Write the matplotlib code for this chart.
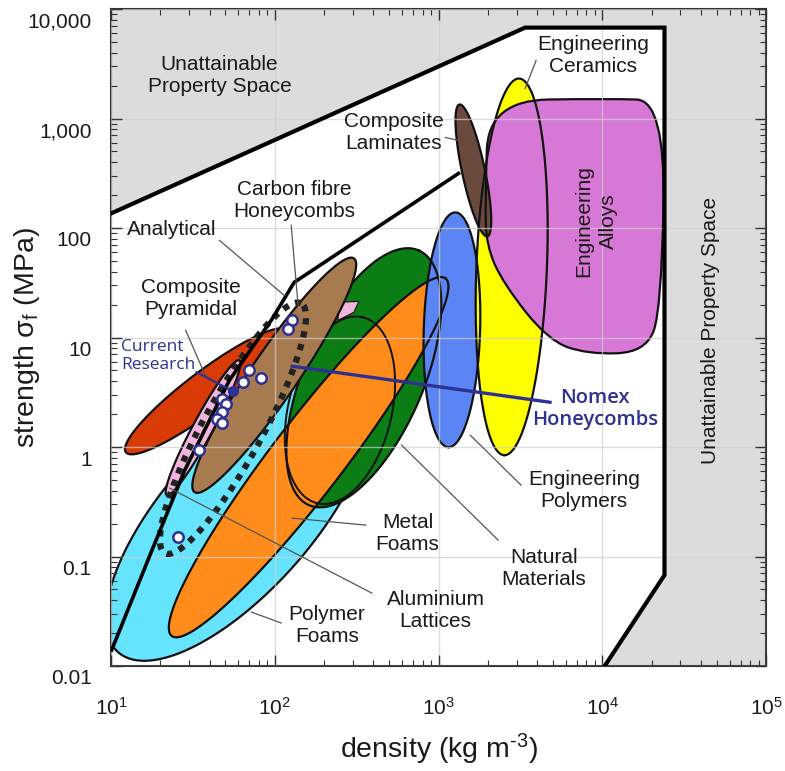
import numpy as np
import matplotlib.pyplot as plt
from matplotlib.path import Path
from matplotlib.patches import PathPatch
from matplotlib.ticker import NullFormatter
from matplotlib.transforms import ScaledTranslation

plt.rcParams['font.family'] = ['Liberation Sans', 'DejaVu Sans']
plt.rcParams['mathtext.fontset'] = 'custom'
plt.rcParams['mathtext.rm'] = 'Liberation Sans'
plt.rcParams['mathtext.it'] = 'Liberation Sans:italic'

# axes
x_ticks = [1e1, 1e2, 1e3, 1e4, 1e5]
x_tick_labels = [r'$\mathregular{10^{1}}$', r'$\mathregular{10^{2}}$', r'$\mathregular{10^{3}}$',
                 r'$\mathregular{10^{4}}$', r'$\mathregular{10^{5}}$']
y_ticks = [0.01, 0.1, 1, 10, 100, 1000, 10000]
y_tick_labels = ['0.01', '0.1', '1', '10', '100', '1,000', '10,000']

# unattainable property space (density, strength)
gray_density = [10, 3381, 23990, 23990, 10350, 1e5, 1e5, 10]
gray_strength = [135.8, 6761, 6761, 0.0676, 0.01, 0.01, 1e4, 1e4]

# analytical limit line
limit_density = [10.1, 17.3, 28.2, 52.8, 95.3, 131.5, 1325]
limit_strength = [0.0140, 0.103, 0.614, 4.06, 14.4, 31.9, 315]

# material envelopes: two tips (density, strength) and minor/major ratio
polymer_foams = [(11.03, 0.0134), (326.3, 4.07), 0.41]
natural_materials = [(162.0, 0.294), (755.8, 62.5), 0.43]
natural_inner = [(181.3, 0.307), (345.1, 15.29), 0.54]
al_lattices = [(23.5, 0.0188), (1103, 34.7), 0.16]
eng_polymers = [(1269, 138.8), (1150, 0.996), 0.24]
eng_ceramics = [(3108, 2317), (2519, 0.842), 0.187]
comp_laminates = [(1342, 1342), (1986, 83.8), 0.17]
cf_honeycombs = [(32.4, 0.387), (304.3, 52.8), 0.165]
red_region = [(12.33, 0.896), (119.1, 11.63), 0.2]
pyramidal = [(21.9, 0.363), (60.8, 6.19), 0.13]
pyramidal_tip_density = [246.6, 326.3, 304.3, 243.2]
pyramidal_tip_strength = [20.95, 21.39, 16.97, 14.36]
dotted_region = [(21.3, 0.1074), (144.9, 20.5), 0.21]

# engineering alloys outline (control points)
alloys_density = [2014, 10800, 24320, 22995, 18385, 8161, 4664, 2484, 1957, 1930]
alloys_strength = [1459, 1522, 1459, 17.71, 7.33, 7.025, 9.43, 31.22, 69.4, 178.6]

# current research specimens
research_density = [127.8, 120.8, 70.0, 64.3, 82.8, 47.9, 50.7, 47.9, 44.7, 47.9, 34.3, 25.5]
research_strength = [14.36, 11.88, 5.02, 3.90, 4.24, 2.73, 2.46, 2.08, 1.79, 1.65, 0.935, 0.150]

# leader lines [(x0, y0), (x1, y1)]
leaders = [
    [(46.0, 77.0), (114.2, 24.27)],
    [(126.0, 105.6), (138.9, 19.67)],
    [(28.58, 11.63), (38.33, 4.24)],
    [(1103, 670.7), (1323, 629.9)],
    [(3942, 3381), (3380, 1878)],
    [(359.8, 0.1934), (127.8, 0.2241)],
    [(2315, 0.1411), (595.7, 1.038)],
    [(3194, 0.448), (1564, 1.281)],
    [(391.4, 0.04634), (22.84, 0.4208)],
    [(109.5, 0.02468), (71.97, 0.0311)],
]
research_leader = [(33.33, 4.813), (55.3, 3.24)]
nomex_line = [(127.8, 5.461), (4795, 2.563)]

# labels: text, density, strength
labels = [
    ('Unattainable\nProperty Space', 46.0, 2468),
    ('Engineering\nCeramics', 8753, 3757),
    ('Composite\nLaminates', 532.5, 745),
    ('Carbon fibre\nHoneycombs', 131.4, 178.6),
    ('Analytical', 23.49, 97.1),
    ('Composite\nPyramidal', 30.64, 22.8),
    ('Metal\nFoams', 647.7, 0.1635),
    ('Natural\nMaterials', 4410, 0.0784),
    ('Engineering\nPolymers', 7718, 0.4035),
    ('Aluminium\nLattices', 958.9, 0.03243),
    ('Polymer\nFoams', 208.5, 0.02366),
]

BLUE = '#2e3192'

fig = plt.figure(figsize=(7.85, 7.71), dpi=100)
ax = fig.add_axes([111 / 785, 105 / 771, 655 / 785, 657 / 771])
ax.set_xscale('log')
ax.set_yscale('log')
ax.set_xlim(10, 1e5)
ax.set_ylim(0.01, 1e4)


def ellipse_xy(spec, n=240):
    tip1, tip2, ratio = spec
    p = ax.transData.transform([tip1, tip2])
    c = p.mean(axis=0)
    a = (p[1] - p[0]) / 2
    b = np.array([-a[1], a[0]]) * ratio
    t = np.linspace(0, 2 * np.pi, n)
    pts = c + np.outer(np.cos(t), a) + np.outer(np.sin(t), b)
    return ax.transData.inverted().transform(pts)


def draw_ellipse(spec, fc, lw=1.6, z=1.0, edge=True, fill=True, **kw):
    xy = ellipse_xy(spec)
    if fill:
        ax.fill(xy[:, 0], xy[:, 1], facecolor=fc, edgecolor='#111111' if edge else 'none',
                lw=lw, zorder=z)
    else:
        ax.plot(xy[:, 0], xy[:, 1], color='#111111', lw=lw, zorder=z, **kw)


# gray region
ax.fill(gray_density, gray_strength, facecolor='#dcdcdc', edgecolor='none', zorder=0.5)
ax.plot(gray_density[:5], gray_strength[:5], color='black', lw=3, zorder=4,
        solid_joinstyle='miter')

# polymer foams
draw_ellipse(polymer_foams, '#66e4fd', z=1.0)

# main group: fills then outlines
group = [
    (natural_materials, '#0b7d14'),
    (al_lattices, '#ff8c1a'),
    (eng_polymers, '#5b84f4'),
    (eng_ceramics, '#ffff00'),
]
for spec, col in group:
    draw_ellipse(spec, col, z=1.2, edge=False)

# alloys, smooth closed outline through the control points
lx = np.log10(alloys_density)
ly = np.log10(alloys_strength)
n = len(lx)
mx = 10 ** ((lx + np.roll(lx, -1)) / 2)
my = 10 ** ((ly + np.roll(ly, -1)) / 2)
verts = [(mx[-1], my[-1])]
codes = [Path.MOVETO]
for i in range(n):
    verts += [(alloys_density[i], alloys_strength[i]), (mx[i], my[i])]
    codes += [Path.CURVE3, Path.CURVE3]
alloy_path = Path(verts, codes)
ax.add_patch(PathPatch(alloy_path, facecolor='#d878d6', edgecolor='none', zorder=1.25))
draw_ellipse(comp_laminates, '#6b4a3e', z=1.27, edge=False)

for spec, col in group:
    draw_ellipse(spec, None, z=1.3, fill=False)
draw_ellipse(natural_inner, None, z=1.3, fill=False, lw=1.4)
ax.add_patch(PathPatch(alloy_path, facecolor='none', edgecolor='#111111', lw=1.6, zorder=1.3))
draw_ellipse(comp_laminates, None, z=1.31, fill=False)

# small composite pyramidal / carbon honeycomb regions
draw_ellipse(red_region, '#d93b06', z=1.4)
draw_ellipse(pyramidal, '#f2b6de', z=1.45)
ax.fill(pyramidal_tip_density, pyramidal_tip_strength, facecolor='#f2b6de',
        edgecolor='#111111', lw=0.8, zorder=1.45)
draw_ellipse(cf_honeycombs, '#a87a50', z=1.5)

# dotted envelope
dxy = ellipse_xy(dotted_region)
ax.plot(dxy[:, 0], dxy[:, 1], color='#222222', lw=4.5, ls=(0, (1, 1.1)), zorder=3.5)

# analytical limit
ax.plot(limit_density, limit_strength, color='black', lw=2.6, zorder=4)

# leader lines
for (x0, y0), (x1, y1) in leaders:
    ax.plot([x0, x1], [y0, y1], color='#555555', lw=0.9, zorder=4)

ax.plot([p[0] for p in research_leader], [p[1] for p in research_leader],
        color=BLUE, lw=1.6, zorder=5)
ax.plot([research_leader[1][0]], [research_leader[1][1]], 'o', color=BLUE, ms=7, zorder=6)
ax.plot([p[0] for p in nomex_line], [p[1] for p in nomex_line], color=BLUE, lw=2.4, zorder=5)
ax.plot(research_density, research_strength, 'o', mfc='white', mec=BLUE, mew=1.8, ms=7.5,
        ls='none', zorder=6)

# grid
ax.grid(True, which='major', color='#cfcfcf', lw=1.0, alpha=0.7)
ax.set_axisbelow(False)

# texts
for txt, x, y in labels:
    ax.text(x, y, txt, ha='center', va='center', fontsize=15, color='#1a1a1a',
            linespacing=1.2, zorder=7)
ax.text(9129, 114.9, 'Engineering\nAlloys', ha='center', va='center', rotation=90,
        fontsize=15, color='#1a1a1a', linespacing=1.4, zorder=7)
ax.text(45640, 11.63, 'Unattainable Property Space', ha='center', va='center', rotation=90,
        fontsize=15, color='#1a1a1a', zorder=7)
ax.text(11.5, 6.736, 'Current\nResearch', ha='left', va='center', fontsize=12.5,
        color=BLUE, family=['Open Sans', 'DejaVu Sans'], linespacing=1.15, zorder=7)
ax.text(9002, 2.213, 'Nomex\nHoneycombs', ha='center', va='center', fontsize=14.5,
        color=BLUE, family=['Open Sans', 'DejaVu Sans'], weight='semibold',
        linespacing=1.1, zorder=7)

# ticks and axes
ax.set_xticks(x_ticks)
ax.set_xticklabels(x_tick_labels)
ax.set_yticks(y_ticks)
ax.set_yticklabels(y_tick_labels)
ax.xaxis.set_minor_formatter(NullFormatter())
ax.yaxis.set_minor_formatter(NullFormatter())
ax.tick_params(which='both', direction='in', top=True, right=True, colors='#333333',
               labelcolor='#1a1a1a', labelsize=15)
ax.tick_params(which='major', length=8, width=1)
ax.tick_params(which='minor', length=4, width=0.8)
ax.tick_params(axis='y', pad=14)
ax.tick_params(axis='x', pad=22)
for lab in ax.get_yticklabels():
    lab.set_transform(lab.get_transform() + ScaledTranslation(0, -0.11, fig.dpi_scale_trans))
for s in ax.spines.values():
    s.set_color('#333333')
    s.set_linewidth(1.5)

ax.set_xlabel('density (kg m$^\\mathregular{\u20103}$)', fontsize=20.5, color='#1a1a1a')
ax.set_ylabel('strength σ$_\\mathregular{f}$ (MPa)', fontsize=20.5, color='#1a1a1a')
ax.xaxis.set_label_coords(0.5, -0.10)
ax.yaxis.set_label_coords(-0.105, 0.5)

fig.savefig('out.png', dpi=100)
